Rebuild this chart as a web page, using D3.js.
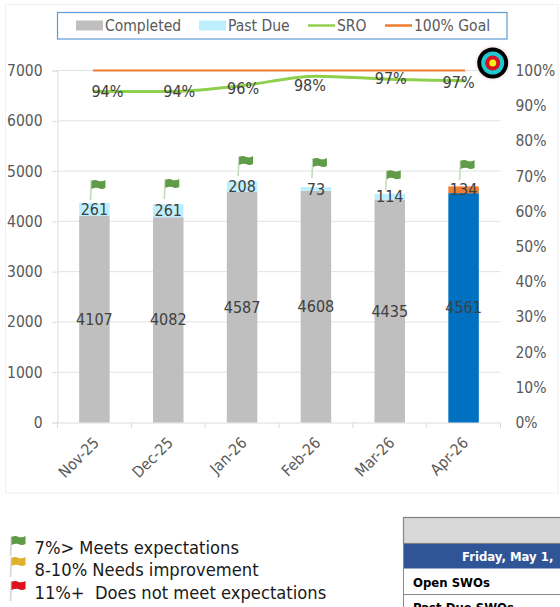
<!DOCTYPE html>
<html><head><meta charset="utf-8">
<script src="https://cdn.jsdelivr.net/npm/d3@7"></script>
<style>html,body{margin:0;padding:0;background:#fff;overflow:hidden}svg{display:block}text{font-family:"DejaVu Sans Condensed","DejaVu Sans",sans-serif;font-stretch:condensed}</style>
</head><body><div id="chart"></div>
<script>
const months=["Nov-25","Dec-25","Jan-26","Feb-26","Mar-26","Apr-26"];
const completed=[4107,4082,4587,4608,4435,4561];
const pastDue=[261,261,208,73,114,134];
const sro=[94.0,94.0,95.7,98.4,97.5,97.1];
const sroLabels=["94%","94%","96%","98%","97%","97%"];
const goal=[100,100,100,100,100,100];
const flagBase=[4424,4445,4900,4860,4620,4820];
const leftTicks=[0,1000,2000,3000,4000,5000,6000,7000];
const rightTicks=[0,10,20,30,40,50,60,70,80,90,100];
const legendItems=["Completed","Past Due","SRO","100% Goal"];
const keyLines=["7%> Meets expectations","8-10% Needs improvement","11%+  Does not meet expectations"];
const tableRows=["Open SWOs","Past Due SWOs"];
const tableDate="Friday, May 1,";

const W=560,H=607,textCol="#595959",fs="15.5px";
const svg=d3.select("#chart").append("svg").attr("width",W).attr("height",H);
svg.append("rect").attr("x",5.5).attr("y",4.5).attr("width",552.5).attr("height",488.5).attr("fill","#fff").attr("stroke","#f0f0f0");

const x=d3.scaleBand().domain(months).range([57.5,500.5]);
const xLine=d3.scalePoint().domain(months).range([93,465]);
const y=d3.scaleLinear().domain([0,7000]).range([422.5,70.5]);
const yR=d3.scaleLinear().domain([0,100]).range([422.5,70.5]);
const cx=m=>x(m)+x.bandwidth()/2;

// axes
const gL=svg.append("g").attr("transform","translate(57.5,0)")
  .call(d3.axisLeft(y).tickValues(leftTicks).tickFormat(d3.format("d")).tickSize(5).tickPadding(10));
gL.select(".domain").attr("stroke","#dcdcdc");
gL.selectAll(".tick line").attr("stroke","#dcdcdc");
gL.selectAll("text").attr("fill",textCol).style("font-size",fs);
svg.append("g").selectAll("line").data(leftTicks.slice(1)).join("line")
  .attr("x1",57.5).attr("x2",500.5).attr("y1",d=>y(d)).attr("y2",d=>y(d)).attr("stroke","#e2e2e2").attr("stroke-width",1);
const gR=svg.append("g").attr("transform","translate(500.5,0)")
  .call(d3.axisRight(yR).tickValues(rightTicks).tickFormat(d=>d+"%").tickSize(0).tickPadding(15));
gR.select(".domain").remove();
gR.selectAll("text").attr("fill",textCol).style("font-size",fs);
const gX=svg.append("g").attr("transform","translate(0,422.5)")
  .call(d3.axisBottom(x).tickFormat("").tickSize(0));
gX.select(".domain").attr("stroke","#dcdcdc");
gX.selectAll(".tick").remove();
svg.append("g").selectAll("line").data(d3.range(months.length+1)).join("line")
  .attr("x1",i=>57.5+i*x.bandwidth()).attr("x2",i=>57.5+i*x.bandwidth())
  .attr("y1",422.5).attr("y2",428).attr("stroke","#dcdcdc");
svg.append("g").selectAll("text").data(months).join("text")
  .attr("transform",m=>`translate(${cx(m)-2},${436}) rotate(-45)`)
  .attr("text-anchor","end").attr("dy","0.7em").attr("fill",textCol).style("font-size",fs).text(d=>d);

// bars
const barW=30.5,last=months.length-1;
svg.append("g").selectAll("rect").data(months).join("rect")
  .attr("x",m=>cx(m)-barW/2).attr("width",barW)
  .attr("y",(m,i)=>y(completed[i])).attr("height",(m,i)=>y(0)-y(completed[i]))
  .attr("fill",(m,i)=>i===last?"#0070c0":"#bfbfbf");
svg.append("g").selectAll("rect").data(months).join("rect")
  .attr("x",m=>cx(m)-barW/2).attr("width",barW)
  .attr("y",(m,i)=>y(completed[i]+pastDue[i])).attr("height",(m,i)=>y(completed[i])-y(completed[i]+pastDue[i]))
  .attr("fill",(m,i)=>i===last?"#ed7d31":"#bdefff");

// lines
const lineGen=d3.line().x((d,i)=>xLine(months[i])).y(d=>yR(d));
svg.append("path").datum(sro).attr("fill","none").attr("stroke","#8ed04e").attr("stroke-width",3)
  .attr("d",lineGen.curve(d3.curveMonotoneX));
svg.append("path").datum(goal).attr("fill","none").attr("stroke","#ed7d31").attr("stroke-width",2)
  .attr("d",lineGen.curve(d3.curveLinear));

// data labels
const lbl=(g,t,xp,yp)=>g.append("text").attr("x",xp).attr("y",yp).attr("text-anchor","middle").attr("dy","0.35em")
  .attr("fill","#404040").style("font-size","16px").text(t);
const labels=svg.append("g");
months.forEach((m,i)=>{
  lbl(labels,completed[i],cx(m),y(completed[i]/2));
  lbl(labels,pastDue[i],cx(m),y(completed[i]+pastDue[i]/2));
});
const sroNudge=[[13,0],[11,0],[1,3],[-6,9],[1,-1],[-5,2]];
months.forEach((m,i)=>lbl(labels,sroLabels[i],cx(m)+sroNudge[i][0],yR(sro[i])+sroNudge[i][1]));

// flags
function flag(g,px,py,col,pole){
  const h=20;
  g.append("line").attr("x1",px).attr("x2",px+1).attr("y1",py).attr("y2",py-h)
    .attr("stroke",pole).attr("stroke-width",1.6);
  const p=d3.path();
  const t=py-h;
  p.moveTo(px+1,t+1);p.quadraticCurveTo(px+5,t-1,px+8,t+1);p.quadraticCurveTo(px+12,t+2,px+15,t);
  p.lineTo(px+15,t+8);p.quadraticCurveTo(px+11,t+10,px+8,t+8);p.quadraticCurveTo(px+5,t+7,px+1,t+9);p.closePath();
  g.append("path").attr("d",p.toString()).attr("fill",col);
}
const fg=svg.append("g");
months.forEach((m,i)=>flag(fg,cx(m)-4,y(flagBase[i]),"#5f9b48","#c5dcbc"));

// target
const tg=svg.append("g").attr("transform","translate(492.7,63)");
[[17.5,"#fbeef0"],[15.5,"#000"],[11.5,"#1fc9d0"],[7.5,"#d8121e"],[3.5,"#f7ee1a"]].forEach(r=>
  tg.append("circle").attr("r",r[0]).attr("fill",r[1]));

// legend
svg.append("rect").attr("x",57.5).attr("y",12.5).attr("width",449.5).attr("height",26.5)
  .attr("fill","#fff").attr("stroke","#5b9bd5").attr("stroke-width",1.2);
const lg=svg.append("g");
const legX=[76,199,308,385];
legendItems.forEach((t,i)=>{
  if(i<2) lg.append("rect").attr("x",legX[i]).attr("y",20.5).attr("width",27).attr("height",10).attr("fill",i?"#bdefff":"#bfbfbf");
  else lg.append("line").attr("x1",legX[i]).attr("x2",legX[i]+27).attr("y1",25.5).attr("y2",25.5)
    .attr("stroke",i===2?"#8ed04e":"#ed7d31").attr("stroke-width",2.5);
  lg.append("text").attr("x",legX[i]+29).attr("y",25.5).attr("dy","0.35em").attr("fill",textCol).style("font-size",fs).text(t);
});

// key
const kg=svg.append("g");
const keyCols=["#5f9b48","#e0b030","#e0101c"];
const keyY=[548,570,593];
keyLines.forEach((t,i)=>{
  kg.append("text").attr("x",34.5).attr("y",keyY[i]).attr("dy","0.35em").attr("fill","#1a1a1a").style("font-size","18.2px").style("white-space","pre").text(t);
  flag(kg,10.5,[556,577,601][i],keyCols[i],"#d5d5d5");
});

// table
const tb=svg.append("g");
tb.append("rect").attr("x",403.5).attr("y",517.5).attr("width",170).attr("height",26).attr("fill","#d9d9d9").attr("stroke","#7f7f7f").attr("stroke-width",1.2);
tb.append("rect").attr("x",403.5).attr("y",544).attr("width",170).attr("height",24.5).attr("fill","#2f5597");
tb.append("text").attr("x",462).attr("y",556).attr("dy","0.35em").attr("fill","#fff").attr("font-weight",700).style("font-size","13px").text(tableDate);
tableRows.forEach((t,i)=>{
  tb.append("text").attr("x",413).attr("y",582+i*25.5).attr("dy","0.35em").attr("fill","#000").attr("font-weight",700).style("font-size","13px").text(t);
  tb.append("line").attr("x1",403.5).attr("x2",570).attr("y1",594.5+i*25.5).attr("y2",594.5+i*25.5).attr("stroke","#888");
});
tb.append("line").attr("x1",403.5).attr("x2",403.5).attr("y1",517).attr("y2",607).attr("stroke","#888");
</script></body></html>
